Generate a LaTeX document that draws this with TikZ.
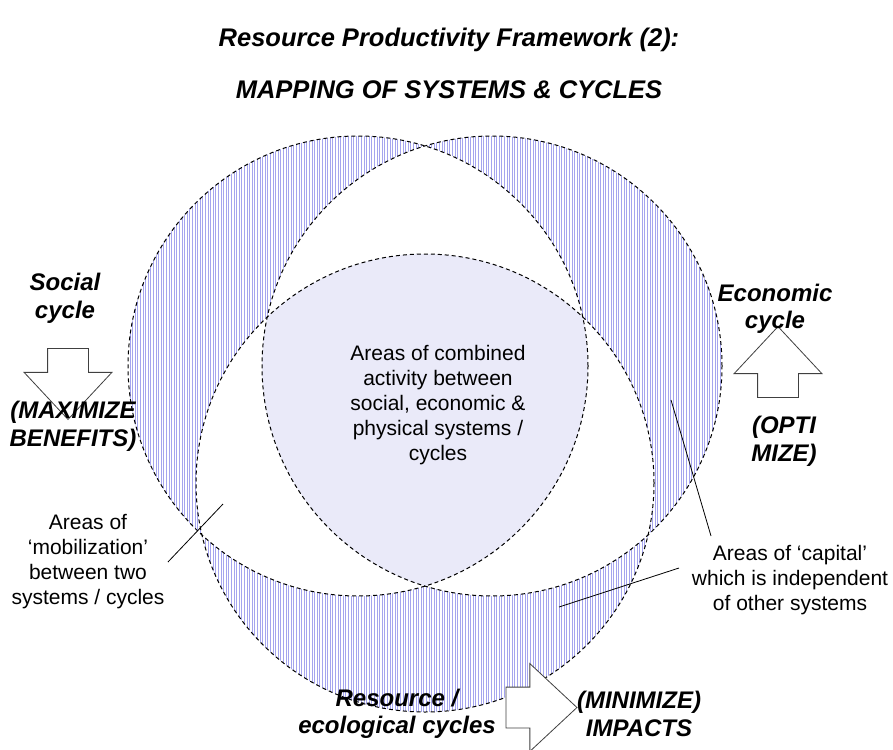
\documentclass[tikz,border=0pt]{standalone}
\usepackage{fontspec}
\setmainfont{Liberation Sans}
\usetikzlibrary{patterns.meta,shapes.arrows}

\definecolor{hatchblue}{RGB}{165,165,238}
\definecolor{corelilac}{RGB}{234,234,249}
\newcommand\titlefnt{\fontsize{25.5}{29}\selectfont\bfseries\itshape}
\newcommand\cyclefnt{\fontsize{24}{27.5}\selectfont\bfseries\itshape}
\newcommand\notefnt{\fontsize{21}{25}\selectfont}
\newcommand\socialcircle{(358,366) circle[radius=230pt]}
\newcommand\economiccircle{(492,366) circle[radius=230pt]}
\newcommand\resourcecircle{(425,483) circle[radius=229pt]}

\begin{document}
\begin{tikzpicture}[x=1pt, y=-1pt,
    cycleline/.style={dash pattern=on 4pt off 3pt, line width=1pt},
    hatchfill/.style={pattern={Lines[angle=90, distance=2.6pt, line width=0.9pt]}, pattern color=hatchblue},
    blockarrow/.style={draw=black!75, fill=white, line width=0.8pt, single arrow,
        single arrow head extend=23.5pt, single arrow tip angle=86,
        minimum width=87pt, minimum height=71pt, inner sep=20pt},
    cyclelabel/.style={align=center, font=\cyclefnt},
    notetext/.style={align=center, font=\notefnt},
    pointer/.style={line width=0.8pt}]
    \useasboundingbox (0,0) rectangle (893,749);

    \fill[hatchfill] \socialcircle;
    \fill[hatchfill] \economiccircle;
    \fill[hatchfill] \resourcecircle;
    \begin{scope}
        \clip \socialcircle;
        \fill[white] \economiccircle;
        \fill[white] \resourcecircle;
    \end{scope}
    \begin{scope}
        \clip \economiccircle;
        \fill[white] \resourcecircle;
    \end{scope}
    \begin{scope}
        \clip \socialcircle;
        \clip \economiccircle;
        \fill[corelilac] \resourcecircle;
    \end{scope}
    \draw[cycleline] \socialcircle;
    \draw[cycleline] \economiccircle;
    \draw[cycleline] \resourcecircle;

    \node[blockarrow, shape border rotate=270] (socialarrow) at (68,373) {};
    \node[blockarrow, shape border rotate=90] (economicarrow) at (778,373) {};
    \node[blockarrow, shape border rotate=0] (resourcearrow) at (530.5,707.5) {};

    \node[font=\titlefnt] (title) at (449,40) {Resource Productivity Framework (2):};
    \node[font=\titlefnt] (subtitle) at (449,90) {MAPPING OF SYSTEMS \& CYCLES};

    \node[cyclelabel] (social) at (65,298.5) {Social\\cycle};
    \node[cyclelabel] (maximize) at (73,426.5) {(MAXIMIZE\\BENEFITS)};
    \node[cyclelabel] (economic) at (775,309) {Economic\\cycle};
    \node[cyclelabel] (optimize) at (784,441.5) {(OPTI\\MIZE)};
    \node[cyclelabel] (resource) at (397,714) {Resource /\\ecological cycles};
    \node[cyclelabel] (minimize) at (639,714) {(MINIMIZE)\\IMPACTS};

    \node[notetext] (combined) at (438,405) {Areas of combined\\activity between\\social, economic \&\\physical systems /\\cycles};
    \node[notetext] (mobilization) at (88,562) {Areas of\\‘mobilization’\\between two\\systems / cycles};
    \node[notetext] (capital) at (790,580) {Areas of ‘capital’\\which is independent\\of other systems};

    \coordinate (mobtip) at (223,504);
    \coordinate (captop) at (711,536);
    \coordinate (capbandtip) at (671,400);
    \coordinate (capleft) at (679,568);
    \coordinate (capbottomtip) at (559,607);
    \draw[pointer] (mobilization.east) -- (mobtip);
    \draw[pointer] (captop) -- (capbandtip);
    \draw[pointer] (capleft) -- (capbottomtip);
\end{tikzpicture}
\end{document}
